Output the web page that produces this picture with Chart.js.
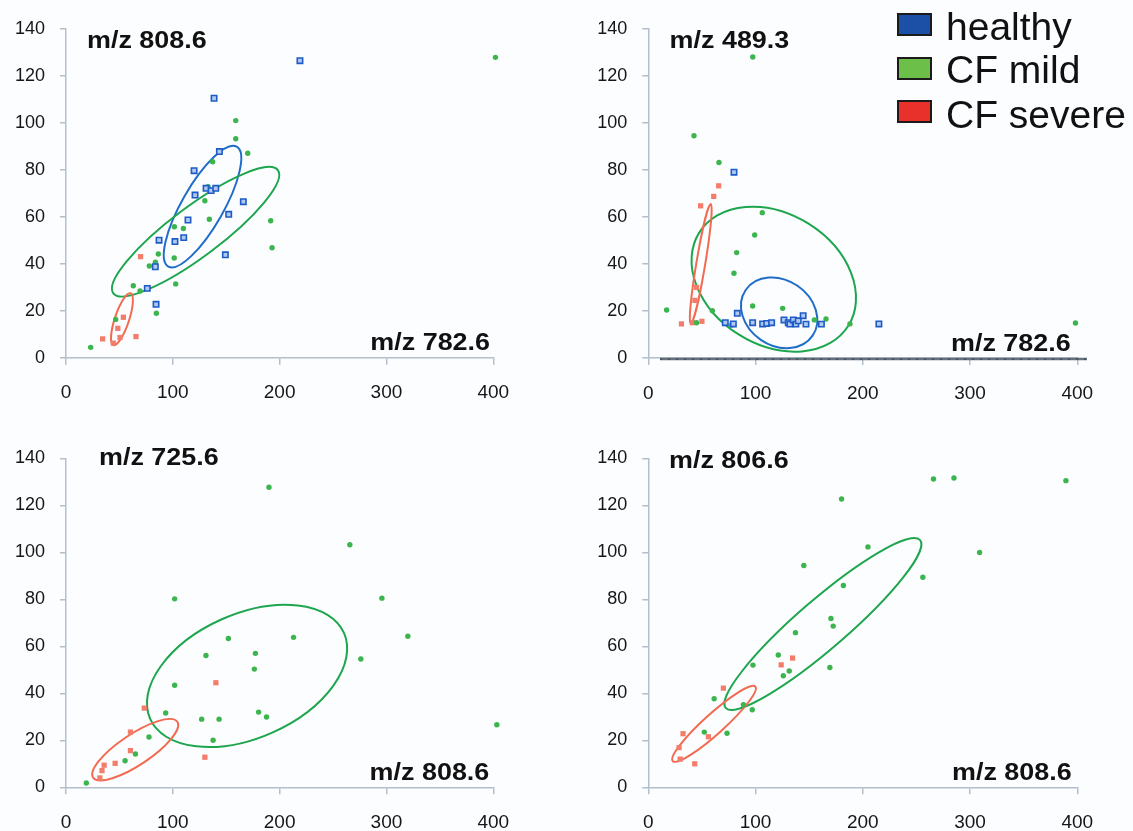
<!DOCTYPE html>
<html>
<head>
<meta charset="utf-8">
<title>m/z scatter plots</title>
<script src="https://cdn.jsdelivr.net/npm/chart.js@4.4.1/dist/chart.umd.min.js"></script>
<style>
  body { margin: 0; background: #fcfdff; }
  #wrap { position: relative; width: 1133px; height: 831px; overflow: hidden; }
  canvas { position: absolute; }
  #legend { position: absolute; left: 0; top: 0; font-family: "Liberation Sans", Arial, sans-serif; color: #111; }
  .lg-box { position: absolute; width: 31px; height: 19px; border: 2px solid #1b1b1b; }
  .lg-text { position: absolute; font-size: 39px; line-height: 39px; white-space: nowrap; }
</style>
</head>
<body>
<div id="wrap">
  <canvas id="p1" width="560" height="415" style="left:0;top:0"></canvas>
  <canvas id="p2" width="558" height="415" style="left:575px;top:0"></canvas>
  <canvas id="p3" width="560" height="416" style="left:0;top:415px"></canvas>
  <canvas id="p4" width="558" height="416" style="left:575px;top:415px"></canvas>
  <div id="legend"></div>
</div>
<script>
// groups, in drawing order
const groups = ["healthy", "CF mild", "CF severe"];
const xTicks = [0, 100, 200, 300, 400];
const yTicks = [0, 20, 40, 60, 80, 100, 120, 140];
const yNames = ["m/z 808.6", "m/z 489.3", "m/z 725.6", "m/z 806.6"];
const xNames = ["m/z 782.6", "m/z 782.6", "m/z 808.6", "m/z 808.6"];

// panel 1: m/z 782.6 vs m/z 808.6
const healthy1 = [[219,126.4],[138.6,110.4],[143.6,87.7],[119.9,79.6],[131.1,72.1],[135.8,71.1],[140.2,72.1],
  [120.8,69.2],[166,66.4],[152.3,61],[114.2,58.6],[87.1,50],[102,49.4],[110.2,51.1],[83.6,38.7],
  [76.1,29.5],[84.3,22.7],[149.2,43.8]];
const mild1 = [[402,127.8],[158.9,100.9],[158.9,93.2],[170.1,87],[137.3,83.4],[133,72.8],[130,66.8],
  [134.2,58.9],[101.4,55.7],[109.9,55],[86.4,44.1],[101.3,42.4],[78,39],[83.7,40.6],[63,30.6],
  [69.3,28.4],[102.7,31.4],[84.6,18.9],[191.6,58.3],[192.9,46.8],[46.5,16.3],[23.1,4.4]];
const severe1 = [[69.8,43],[53.7,17.2],[34.3,8],[65.5,9],[44.3,6.2],[50.6,8.6],[48.5,12.5]];

// panel 2: m/z 782.6 vs m/z 489.3
const healthy2 = [[79.9,79],[83,19],[71.8,15],[79.3,14.5],[97.3,15],[106.6,14.5],[110.4,14.7],[115,15],
  [126.5,16.2],[130.5,15],[132,14.4],[135.2,16.2],[137.6,14.4],[139.8,15.8],[144.4,18],[147,14.4],
  [161.4,14.4],[215,14.5]];
const mild2 = [[97.4,128],[42.6,94.5],[65.9,83.1],[106.3,61.8],[99.2,52.3],[82.4,44.8],[79.9,36],
  [17.1,20.4],[59.7,20.1],[97.3,22.1],[125.3,21.1],[45,15],[77.5,14],[154.8,16.2],[165.7,16.6],
  [188,14.5],[398.3,14.9]];
const severe2 = [[65.6,73.2],[61,68.7],[48.8,64.7],[30.9,14.5],[41.4,15],[50,15.6],[45,30],[43.5,24.5]];

// panel 3: m/z 808.6 vs m/z 725.6
const healthy3 = [];
const mild3 = [[190,127.7],[265.7,103.2],[101.7,80.2],[295.7,80.5],[152,63.3],[213,63.8],[320,64.3],
  [131,56.1],[177.3,57],[276,54.6],[176.3,50.3],[101.7,43.4],[93.3,31.6],[180.3,32],[187.7,29.9],
  [127,29],[143.3,29],[137.7,20],[77.7,21.4],[65,14.2],[55.3,11.3],[19,1.8],[403.3,26.6]];
const severe3 = [[140.3,44.5],[73.3,33.7],[60.3,23.5],[60.3,15.6],[46,10.2],[35.7,9.4],[33.7,7.1],
  [31.7,4],[130,12.8]];

// panel 4: m/z 808.6 vs m/z 806.6
const healthy4 = [];
const mild4 = [[265.9,131.2],[285,131.6],[389.4,130.5],[180.2,122.7],[204.8,102.3],[308.9,99.9],
  [145,94.4],[256,89.4],[181.9,85.9],[170.3,71.8],[172.4,68.6],[137.2,65.8],[121.2,56.3],[97.6,52],
  [169.3,51],[131.4,49.5],[125.9,47.5],[61.4,37.7],[88.7,35.1],[96.9,33],[52.2,23.5],[73.4,23]];
const severe4 = [[70,42.2],[123.9,52.1],[134.5,55],[56,21.5],[32.4,22.8],[28.7,16.9],[29.7,12],[43.3,10]];

// group ellipses, one per group (healthy, mild, severe): centre x, centre y, half axis 1 (dx, dy), half axis 2 (dx, dy)
const ellipses1 = [[127.8,64.3,32,25.5,17,-4.3],[121.3,53.6,77,26.2,14,-8.5],[52.4,16.4,8.1,11,6.3,-1]];
const ellipses2 = [[122,19.2,31.2,-9.7,17.1,11.5],[117,33.5,69.5,-19.8,32.4,23.6],[48.9,40,9.35,25.5,4.1,-0.3]];
const ellipses3 = [null,[169.5,47.4,90.7,18.3,23.6,-24.1],[64.8,16,39.2,12,8.9,-5.2]];
const ellipses4 = [null,[162.8,69.5,90.4,35.8,16,-7.5],[61.3,27,38.4,15.9,6.9,-2.9]];

const pointColors = ["#1d5cc6", "#3db54f", "#f37d6a"];
const pointFills = ["#b3c8f0", "#3db54f", "#f37d6a"];
const ellipseColors = ["#1f6dc9", "#1ea64f", "#f26a50"];
const legendColors = ["#1c4fa6", "#6cc04a", "#e8312a"];
const font = '"Liberation Sans", Arial, sans-serif';

// canvas boxes and plot areas in page pixels
const panels = [
  { id: "p1", box: [0, 0, 560, 415], area: [66, 28.7, 493.3, 357.7], yPos: [87, 48], xPos: [490, 350],
    pts: [healthy1, mild1, severe1], ell: ellipses1, bar: false },
  { id: "p2", box: [575, 0, 558, 415], area: [648.3, 28.7, 1077.3, 358], yPos: [669.6, 48], xPos: [1070.7, 350.5],
    pts: [healthy2, mild2, severe2], ell: ellipses2, bar: true },
  { id: "p3", box: [0, 415, 560, 416], area: [66, 458.3, 493.3, 787.3], yPos: [99, 465], xPos: [489.3, 780],
    pts: [healthy3, mild3, severe3], ell: ellipses3, bar: false },
  { id: "p4", box: [575, 415, 558, 416], area: [648.3, 458.3, 1077.3, 787.3], yPos: [669, 468], xPos: [1071.7, 780],
    pts: [healthy4, mild4, severe4], ell: ellipses4, bar: false }
];

function drawName(ctx, text, x, y, align) {
  const sx = 1.17;
  ctx.save();
  ctx.font = "bold 23px " + font;
  ctx.fillStyle = "#111";
  ctx.textBaseline = "alphabetic";
  ctx.textAlign = "left";
  const w = ctx.measureText(text).width * sx;
  ctx.translate(align === "left" ? x : x - w, y);
  ctx.scale(sx, 1);
  ctx.fillText(text, 0, 0);
  ctx.restore();
}

const decor = {
  id: "decor",
  beforeDatasetsDraw(chart, args, o) {
    const ctx = chart.ctx, xs = chart.scales.x, ys = chart.scales.y;
    if (o.bar) {
      const y0 = ys.getPixelForValue(0) + 1;
      ctx.save();
      ctx.strokeStyle = "#66727e";
      ctx.lineWidth = 2.5;
      ctx.beginPath();
      ctx.moveTo(xs.getPixelForValue(11), y0);
      ctx.lineTo(xs.getPixelForValue(409), y0);
      ctx.stroke();
      ctx.strokeStyle = "#3e4a56";
      ctx.lineWidth = 1.5;
      ctx.setLineDash([2, 6]);
      ctx.beginPath();
      ctx.moveTo(xs.getPixelForValue(11), y0);
      ctx.lineTo(xs.getPixelForValue(409), y0);
      ctx.stroke();
      ctx.restore();
    }
    o.ell.forEach((e, i) => {
      if (!e) return;
      const cx = xs.getPixelForValue(e[0]), cy = ys.getPixelForValue(e[1]);
      const ax = xs.getPixelForValue(e[0] + e[2]) - cx, ay = ys.getPixelForValue(e[1] + e[3]) - cy;
      const bx = xs.getPixelForValue(e[0] + e[4]) - cx, by = ys.getPixelForValue(e[1] + e[5]) - cy;
      ctx.save();
      ctx.beginPath();
      ctx.save();
      ctx.transform(ax, ay, bx, by, cx, cy);
      ctx.arc(0, 0, 1, 0, Math.PI * 2);
      ctx.restore();
      ctx.strokeStyle = ellipseColors[i];
      ctx.lineWidth = 2;
      ctx.stroke();
      ctx.restore();
    });
  },
  afterDraw(chart, args, o) {
    const ctx = chart.ctx;
    drawName(ctx, o.yName, o.yPos[0], o.yPos[1], "left");
    drawName(ctx, o.xName, o.xPos[0], o.xPos[1], "right");
  }
};

panels.forEach((p, k) => {
  const [bl, bt, bw, bh] = p.box;
  const [al, at, ar, ab] = p.area;
  const datasets = groups.map((g, i) => ({
    label: g,
    data: p.pts[i].map(d => ({ x: d[0], y: d[1] })),
    pointStyle: i === 1 ? "circle" : "rect",
    pointRadius: i === 0 ? 3.8 : (i === 1 ? 2.7 : 3.7),
    pointBorderWidth: i === 0 ? 1.6 : 0,
    pointBorderColor: pointColors[i],
    pointBackgroundColor: pointFills[i],
    showLine: false,
    clip: false
  }));
  const axisColor = "#b3bfcb";
  new Chart(document.getElementById(p.id), {
    type: "scatter",
    data: { datasets },
    options: {
      responsive: false,
      animation: false,
      events: [],
      layout: { padding: { left: 0, top: at - bt, right: bl + bw - ar, bottom: 0 } },
      plugins: {
        legend: { display: false },
        tooltip: { enabled: false },
        decor: { ell: p.ell, bar: p.bar, yName: yNames[k], xName: xNames[k],
          yPos: [p.yPos[0] - bl, p.yPos[1] - bt], xPos: [p.xPos[0] - bl, p.xPos[1] - bt] }
      },
      scales: {
        x: {
          type: "linear", min: xTicks[0], max: xTicks[xTicks.length - 1],
          afterBuildTicks: s => { s.ticks = xTicks.map(v => ({ value: v })); },
          afterFit: s => { s.height = bt + bh - ab; },
          grid: { display: true, drawOnChartArea: false, drawTicks: true, tickLength: 7, color: axisColor, lineWidth: 1.5 },
          border: { display: true, color: axisColor, width: 1.5 },
          ticks: { padding: 17, color: "#161616", font: { family: font, size: 19 }, maxRotation: 0 }
        },
        y: {
          type: "linear", min: yTicks[0], max: yTicks[yTicks.length - 1],
          afterBuildTicks: s => { s.ticks = yTicks.map(v => ({ value: v })); },
          afterFit: s => { s.width = al - bl; },
          grid: { display: true, drawOnChartArea: false, drawTicks: true, tickLength: 6, color: axisColor, lineWidth: 1.5 },
          border: { display: true, color: axisColor, width: 1.5 },
          ticks: { padding: 15, color: "#161616", font: { family: font, size: 18 } }
        }
      }
    },
    plugins: [decor]
  });
});

// legend
const legend = document.getElementById("legend");
const lgBoxTop = [13, 57, 100];
const lgBase = [40, 83, 128];
groups.forEach((g, i) => {
  const box = document.createElement("div");
  box.className = "lg-box";
  box.style.left = "897px";
  box.style.top = lgBoxTop[i] + "px";
  box.style.background = legendColors[i];
  legend.appendChild(box);
  const t = document.createElement("div");
  t.className = "lg-text";
  t.style.left = "946px";
  t.style.top = (lgBase[i] - 33) + "px";
  t.textContent = g;
  legend.appendChild(t);
});
</script>
</body>
</html>
